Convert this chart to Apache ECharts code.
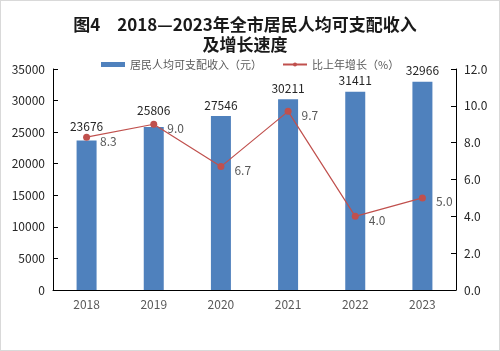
<!DOCTYPE html>
<html>
<head>
<meta charset="utf-8">
<script src="https://cdn.jsdelivr.net/npm/echarts@6/dist/echarts.min.js"></script>
<style>
  html, body { margin: 0; padding: 0; background: #fff; }
  #chart { width: 498px; height: 349px; border: 1px solid #d9d9d9; }
</style>
</head>
<body>
<div id="chart"></div>
<script>
const years = ['2018', '2019', '2020', '2021', '2022', '2023']
const income = [23676, 25806, 27546, 30211, 31411, 32966]
const growth = [8.3, 9.0, 6.7, 9.7, 4.0, 5.0]
const incomeName = '居民人均可支配收入（元）'
const growthName = '比上年增长（%）'

const chart = echarts.init(document.getElementById('chart'))
const font = '"Noto Sans CJK SC", "DejaVu Sans", sans-serif'

// 2018、2019 的柱顶标签抬高一点，避开折线上的点
const barData = income.map((v, i) => {
  if (i === 0) return { value: v, label: { distance: 8 } }
  if (i === 1) return { value: v, label: { distance: 11 } }
  return v
})

const option = {
  backgroundColor: '#fff',
  textStyle: { fontFamily: font },
  title: {
    text: '图4\u30002018—2023年全市居民人均可支配收入\n及增长速度',
    left: 239,
    textAlign: 'center',
    top: 9,
    textStyle: { fontSize: 17, fontWeight: 'bold', color: '#1a1a1a', lineHeight: 20, fontFamily: font }
  },
  legend: {
    top: 53,
    left: 95,
    itemGap: 20,
    itemWidth: 24,
    itemHeight: 5,
    textStyle: { fontSize: 11, color: '#595959', fontFamily: font },
    data: [
      { name: incomeName, icon: 'rect' },
      { name: growthName }
    ]
  },
  grid: { left: 52, right: 43, top: 68, bottom: 60 },
  xAxis: {
    type: 'category',
    data: years,
    axisLine: { lineStyle: { color: '#000', width: 1 } },
    axisTick: { show: false },
    axisLabel: { color: '#595959', fontSize: 12, margin: 8 }
  },
  yAxis: [
    {
      type: 'value',
      min: 0,
      max: 35000,
      interval: 5000,
      splitLine: { show: false },
      axisLine: { show: true, lineStyle: { color: '#000' } },
      axisTick: { show: true, inside: true, length: 5, lineStyle: { color: '#000' } },
      axisLabel: {
        color: '#262626',
        fontSize: 12,
        margin: 8,
        formatter: function(v) { return String(v) }
      }
    },
    {
      type: 'value',
      min: 0,
      max: 12,
      interval: 2,
      splitLine: { show: false },
      axisLine: { show: true, lineStyle: { color: '#000' } },
      axisTick: { show: true, inside: true, length: 5, lineStyle: { color: '#000' } },
      axisLabel: {
        color: '#262626',
        fontSize: 12,
        margin: 8,
        formatter: function(v) { return v.toFixed(1) }
      }
    }
  ],
  series: [
    {
      name: incomeName,
      type: 'bar',
      data: barData,
      barWidth: 20,
      itemStyle: { color: '#4f81bd' },
      label: { show: true, position: 'top', color: '#262626', fontSize: 12, distance: 5 }
    },
    {
      name: growthName,
      type: 'line',
      yAxisIndex: 1,
      data: growth,
      symbol: 'circle',
      symbolSize: 7,
      itemStyle: { color: '#c0504d' },
      lineStyle: { color: '#c0504d', width: 1.2 },
      label: {
        show: true,
        position: 'right',
        offset: [5, 4],
        color: '#595959',
        fontSize: 12,
        formatter: function(p) { return p.value.toFixed(1) }
      }
    }
  ]
}

chart.setOption(option)
</script>
</body>
</html>
